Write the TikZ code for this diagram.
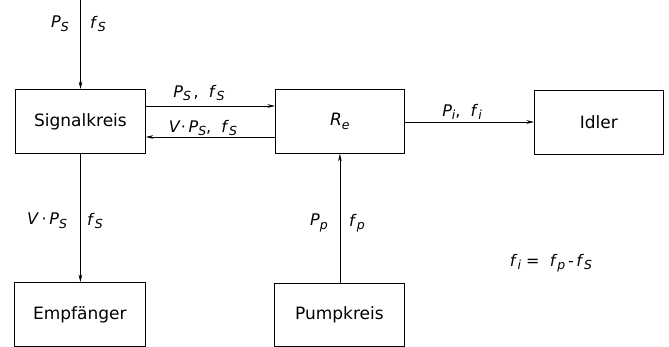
\documentclass[tikz,border=0pt]{standalone}
\usepackage{fontspec}
\setmainfont{DejaVu Sans}
\usetikzlibrary{arrows.meta}
\newcommand{\sym}[2]{\textit{#1}\raisebox{-0.22em}{\fontsize{12.5}{13}\selectfont\textit{#2}}}
\begin{document}
\begin{tikzpicture}[x=1pt,y=-1pt,
  blk/.style={draw,line width=0.8pt,inner sep=0pt,anchor=north west,font=\fontsize{17}{19}\selectfont},
  conn/.style={line width=0.6pt,-{Stealth[length=7.5pt,width=3.6pt]}},
  lbl/.style={inner sep=0pt,font=\fontsize{16}{18}\selectfont}]
\useasboundingbox (0,0) rectangle (669,347);
\node[blk,minimum width=130pt,minimum height=64pt] (sig) at (15,89) {Signalkreis};
\node[blk,minimum width=129pt,minimum height=64pt] (re) at (275,89) {\sym{R}{e}};
\node[blk,minimum width=129pt,minimum height=64pt] (idl) at (534,90) {Idler};
\node[blk,minimum width=131pt,minimum height=64pt] (emp) at (14,282) {Empfänger};
\node[blk,minimum width=130pt,minimum height=63pt] (pump) at (274,283) {Pumpkreis};
\coordinate (in) at (80.5,0);
% input
\draw[conn] (in) -- (in |- sig.north);
\node[lbl] (l1) at (60,24) {\sym{P}{S}};
\node[lbl] (l2) at (98,24) {\sym{f}{S}};
% sig -> re
\draw[conn] (sig.east |- 0,106) -- (re.west |- 0,106);
\node[lbl] (l3) at (199,93) {\sym{P}{S}\,,\ \ \sym{f}{S}};
% re -> sig
\draw[conn] (re.west |- 0,137) -- (sig.east |- 0,137);
\node[lbl] (l4) at (203,128) {\textit{V}·\,\sym{P}{S},\ \ \sym{f}{S}};
% re -> idler
\draw[conn] (re.east |- 0,122) -- (idl.west |- 0,122);
\node[lbl] (l5) at (462,112) {\sym{P}{i},\ \ \sym{f}{i}};
% sig -> emp
\draw[conn] (sig.south) -- (emp.north -| sig.south);
\node[lbl] (l6) at (47,221) {\textit{V}\,·\,\sym{P}{S}};
\node[lbl] (l7) at (95,221) {\sym{f}{S}};
% pump -> re
\draw[conn] (pump.north -| re.south) -- (re.south);
\node[lbl] (l8) at (319,223) {\sym{P}{p}};
\node[lbl] (l9) at (357,223) {\sym{f}{p}};
% formula
\node[lbl] (eq) at (551,263) {\sym{f}{i}\ =\ \ \sym{f}{p}\,-\,\sym{f}{S}};
\end{tikzpicture}
\end{document}
